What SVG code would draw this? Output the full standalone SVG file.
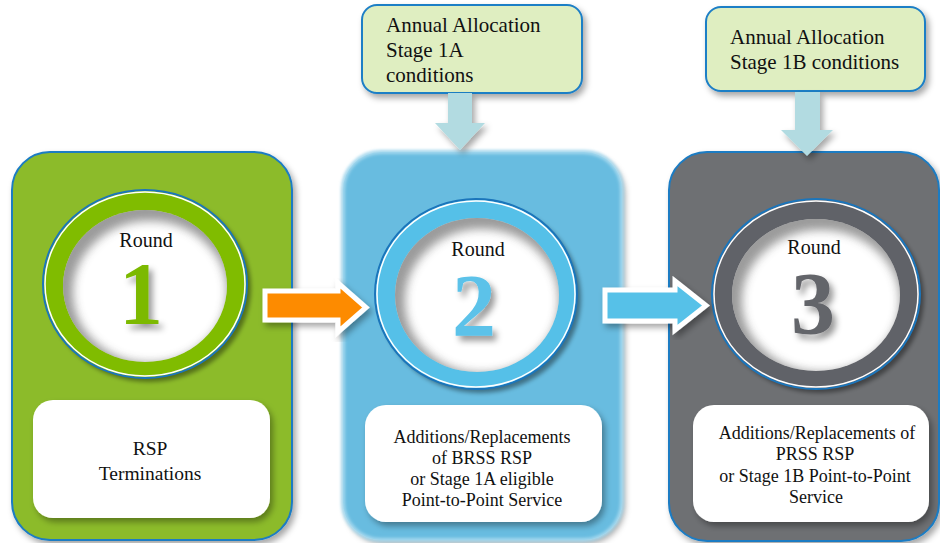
<svg xmlns="http://www.w3.org/2000/svg" width="940" height="543" viewBox="0 0 940 543">
  <style>
    text { font-family: 'Liberation Serif', 'DejaVu Serif', serif; fill: #111; }
    .round { font-size: 20px; text-anchor: middle; }
    .num { font-size: 88px; font-weight: bold; text-anchor: middle; }
    .body { font-size: 18px; text-anchor: middle; }
    .body1 { font-size: 19.5px; text-anchor: middle; }
    .cond { font-size: 21px; }
    .panel-edge { stroke: #1b7cc3; stroke-width: 2; }
    .card { fill: #ffffff; }
    .condbox { fill: #dfeec1; stroke: #1f7fc6; stroke-width: 2; }
    .ring-line { fill: none; stroke: #1b75bb; stroke-width: 2; }
    .ring-hi { fill: none; stroke: #ffffff; stroke-width: 1.5; }
    .inset { fill: none; stroke: #4a4a4a; stroke-width: 30; opacity: 0.55; }
  </style>
  <defs>
    <filter id="shadow" x="-10%" y="-10%" width="130%" height="130%">
      <feDropShadow dx="3" dy="4" stdDeviation="3" flood-color="#000" flood-opacity="0.35"/>
    </filter>
    <filter id="ringShadow" x="-10%" y="-10%" width="130%" height="130%">
      <feDropShadow dx="4" dy="4" stdDeviation="2" flood-color="#000" flood-opacity="0.4"/>
    </filter>
    <filter id="digitShadow" x="-20%" y="-20%" width="150%" height="150%">
      <feDropShadow dx="4" dy="5" stdDeviation="3" flood-color="#000" flood-opacity="0.4"/>
    </filter>
    <filter id="blurIn" x="-20%" y="-20%" width="140%" height="140%">
      <feGaussianBlur stdDeviation="5"/>
    </filter>
    <filter id="glow" x="-10%" y="-10%" width="120%" height="120%">
      <feGaussianBlur stdDeviation="1.5"/>
    </filter>
    <clipPath id="in1"><ellipse cx="145" cy="286" rx="82" ry="76"/></clipPath>
    <clipPath id="in2"><ellipse cx="477" cy="295" rx="82" ry="77"/></clipPath>
    <clipPath id="in3"><ellipse cx="816" cy="295" rx="84" ry="76"/></clipPath>
  </defs>

  <rect width="940" height="543" fill="#ffffff"/>

  <!-- Round 1 -->
  <g id="round1">
    <rect x="12" y="152" width="280" height="388" rx="38" fill="#8cbb2a" class="panel-edge" filter="url(#shadow)"/>
    <ellipse cx="145" cy="284" rx="102" ry="94" fill="#80bc00" filter="url(#ringShadow)"/>
    <ellipse cx="145" cy="284" rx="102" ry="94" class="ring-line"/>
    <ellipse cx="145" cy="284" rx="100" ry="92" class="ring-hi"/>
    <ellipse cx="145" cy="286" rx="82" ry="76" fill="#ffffff"/>
    <g clip-path="url(#in1)">
      <ellipse cx="150" cy="292" rx="92" ry="86" class="inset" filter="url(#blurIn)"/>
    </g>
    <text class="round" x="146" y="247">Round</text>
    <text class="num" x="141" y="323" style="fill:#7cb900" filter="url(#digitShadow)">1</text>
    <rect x="33" y="400" width="237" height="118" rx="20" class="card" filter="url(#shadow)"/>
    <text class="body1" x="150" y="455">RSP</text>
    <text class="body1" x="150" y="480">Terminations</text>
  </g>

  <!-- Round 2 -->
  <g id="round2">
    <rect x="343" y="152" width="279" height="388" rx="38" fill="#67bce0" filter="url(#shadow)"/>
    <rect x="343" y="152" width="279" height="388" rx="38" fill="none" stroke="#a4d8ee" stroke-width="4" filter="url(#glow)"/>
    <ellipse cx="476" cy="294" rx="101" ry="95" fill="#54c0e8" filter="url(#ringShadow)"/>
    <ellipse cx="476" cy="294" rx="101" ry="95" class="ring-line"/>
    <ellipse cx="476" cy="294" rx="99" ry="93" class="ring-hi"/>
    <ellipse cx="477" cy="295" rx="82" ry="77" fill="#ffffff"/>
    <g clip-path="url(#in2)">
      <ellipse cx="482" cy="301" rx="92" ry="87" class="inset" filter="url(#blurIn)"/>
    </g>
    <text class="round" x="478" y="256">Round</text>
    <text class="num" x="474" y="335" style="fill:#5bc2e9" filter="url(#digitShadow)">2</text>
    <rect x="365" y="405" width="237" height="117" rx="21" class="card" filter="url(#shadow)"/>
    <text class="body" x="482" y="443">Additions/Replacements</text>
    <text class="body" x="482" y="464">of BRSS RSP</text>
    <text class="body" x="482" y="485">or Stage 1A eligible</text>
    <text class="body" x="482" y="506">Point-to-Point Service</text>
  </g>

  <!-- Round 3 -->
  <g id="round3">
    <rect x="669" y="152" width="270" height="389" rx="38" fill="#6e6f73" class="panel-edge" filter="url(#shadow)"/>
    <ellipse cx="816" cy="294" rx="104" ry="95" fill="#616268" filter="url(#ringShadow)"/>
    <ellipse cx="816" cy="294" rx="104" ry="95" class="ring-line"/>
    <ellipse cx="816" cy="294" rx="102" ry="93" class="ring-hi"/>
    <ellipse cx="816" cy="295" rx="84" ry="76" fill="#ffffff"/>
    <g clip-path="url(#in3)">
      <ellipse cx="821" cy="301" rx="94" ry="86" class="inset" filter="url(#blurIn)"/>
    </g>
    <text class="round" x="814" y="254">Round</text>
    <text class="num" x="813" y="333" style="fill:#64656a" filter="url(#digitShadow)">3</text>
    <rect x="693" y="405" width="236" height="117" rx="21" class="card" filter="url(#shadow)"/>
    <text class="body" x="817" y="439">Additions/Replacements of</text>
    <text class="body" x="815" y="460">PRSS RSP</text>
    <text class="body" x="815" y="482">or Stage 1B Point-to-Point</text>
    <text class="body" x="816" y="503">Service</text>
  </g>

  <!-- Stage 1A conditions -->
  <g id="cond1a">
    <rect x="362" y="5" width="220" height="88" rx="15" class="condbox" filter="url(#shadow)"/>
    <text class="cond" x="386" y="32">Annual Allocation</text>
    <text class="cond" x="386" y="57">Stage 1A</text>
    <text class="cond" x="386" y="82">conditions</text>
  </g>

  <!-- Stage 1B conditions -->
  <g id="cond1b">
    <rect x="706" y="7" width="219" height="84" rx="15" class="condbox" filter="url(#shadow)"/>
    <text class="cond" x="730" y="44">Annual Allocation</text>
    <text class="cond" x="730" y="69">Stage 1B conditions</text>
  </g>

  <!-- Connectors -->
  <g id="connectors">
    <polygon points="448,93 472,93 472,123 485,123 460,150 435,123 448,123" fill="#b2dbe1" filter="url(#shadow)"/>
    <polygon points="795,92 820,92 820,130 833,130 807,156 781,130 795,130" fill="#b2dbe1" filter="url(#shadow)"/>
    <polygon points="265,291 338,291 338,283 366,307.5 338,332 338,320 265,320" fill="#fd8b00" stroke="#ffffff" stroke-width="5" stroke-linejoin="miter" filter="url(#shadow)"/>
    <polygon points="605,290 675,290 675,281 706,305.5 675,330 675,321 605,321" fill="#56c1e8" stroke="#ffffff" stroke-width="5" stroke-linejoin="miter" filter="url(#shadow)"/>
  </g>
</svg>
